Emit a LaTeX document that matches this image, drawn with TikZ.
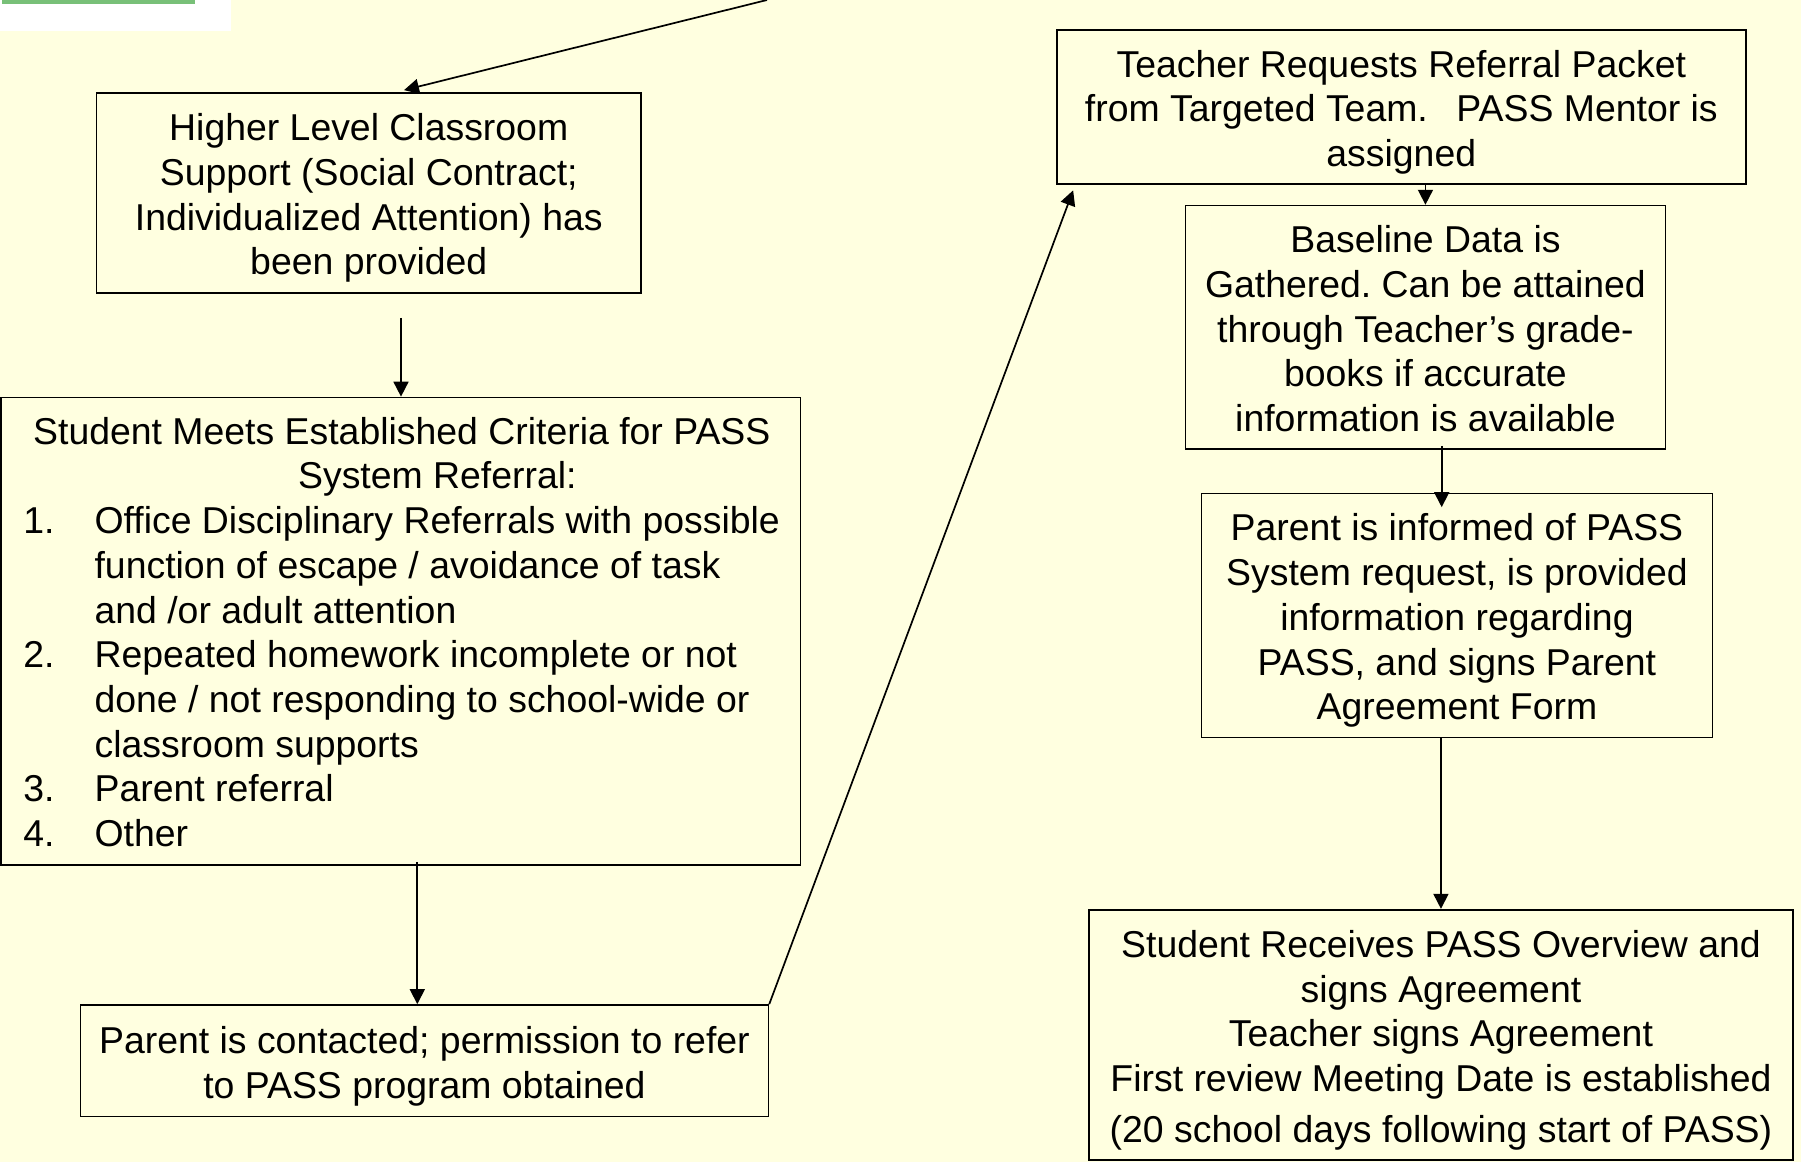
\documentclass[tikz,border=0pt]{standalone}
\usepackage{fontspec}
\setmainfont{Liberation Sans}
\usetikzlibrary{arrows.meta,calc}
\definecolor{bgyellow}{RGB}{255,255,224}
\definecolor{topgreen}{RGB}{120,192,120}
\newcommand\txtfont{\fontsize{18.7pt}{22.35pt}\selectfont\frenchspacing}
\newcommand\fst{\rule{0pt}{18.8pt}}
\newcommand\lst{\rule[-3.9pt]{0pt}{3.9pt}}
\begin{document}
\begin{tikzpicture}[x=0.5pt,y=-0.5pt,
  box/.style={draw=black,line width=0.85pt,align=center,inner sep=0pt,font=\txtfont},
  arr/.style={line width=0.85pt,-{Triangle[length=7.5pt,width=7.5pt]}}]
\fill[bgyellow] (0,0) rectangle (1801,1162);
\useasboundingbox (0,0) rectangle (1801,1162);
\fill[white] (0,0) rectangle (231,31);
\fill[topgreen] (2,0) rectangle (195,3.5);

\node[box,minimum width=272.25pt,minimum height=100pt] (A) at (368.75,193)
  {\fst Higher Level Classroom\\Support (Social Contract;\\Individualized Attention) has\\been provided\lst};

\node[draw=black,line width=0.85pt,inner sep=0pt,minimum width=399.8pt,minimum height=233.75pt] (B) at (400.8,631.25) {};
\node[anchor=west,inner sep=0pt,align=left,font=\txtfont] (Bt) at (1,632)
  {\makebox[400.4pt][c]{Student Meets Established Criteria for PASS}\\
   \makebox[436pt][c]{System Referral:}\\
   \hspace*{11pt}\makebox[35.6pt][l]{1.}Office Disciplinary Referrals with possible\\
   \hspace*{46.6pt}function of escape / avoidance of task\\
   \hspace*{46.6pt}and /or adult attention\\
   \hspace*{11pt}\makebox[35.6pt][l]{2.}Repeated homework incomplete or not\\
   \hspace*{46.6pt}done / not responding to school-wide or\\
   \hspace*{46.6pt}classroom supports\\
   \hspace*{11pt}\makebox[35.6pt][l]{3.}Parent referral\\
   \hspace*{11pt}\makebox[35.6pt][l]{4.}Other};

\node[box,minimum width=344pt,minimum height=55.75pt] (C) at (424.4,1060.75)
  {\fst Parent is contacted; permission to refer\\to PASS program obtained\lst};

\node[box,minimum width=344.6pt,minimum height=76.95pt] (D) at (1401.3,106.85)
  {\fst Teacher Requests Referral Packet\\from Targeted Team.\hspace{14.3pt}PASS Mentor is\\assigned\lst};

\node[box,minimum width=240.05pt,minimum height=121.7pt] (E) at (1425.45,327.3)
  {\fst Baseline Data is\\Gathered. Can be attained\\through Teacher’s grade-\\books if accurate\\information is available\lst};

\node[box,minimum width=255.55pt,minimum height=121.95pt] (F) at (1456.95,615.45)
  {\fst Parent is informed of PASS\\System request, is provided\\information regarding\\PASS, and signs Parent\\Agreement Form\lst};

\node[box,minimum width=352.05pt,minimum height=125.15pt] (G) at (1440.95,1034.85)
  {\fst Student Receives PASS Overview and\\signs Agreement\\Teacher signs Agreement\\First review Meeting Date is established\\[2.9pt](20 school days following start of PASS)\lst};

\coordinate (t0) at (767,0);
\draw[arr] (t0) -- ($(A.north)+(35.25,-2)$);
\draw[arr] ($(A.south)+(32.25,24)$) coordinate (a1) -- (a1 |- B.north);
\draw[arr] ($(B.south)+(16.5,-4)$) coordinate (b1) -- (b1 |- C.north);
\draw[arr] (C.north east) -- ($(D.south west)+(17.3,5.7)$);
\draw[arr] (E.north |- D.south) -- (E.north);
\draw[arr] ($(E.south)+(16.25,-4)$) coordinate (e1) -- ($(e1 |- F.north)+(0,14.5)$);
\draw[arr] (G.north |- F.south) -- (G.north);
\end{tikzpicture}
\end{document}
